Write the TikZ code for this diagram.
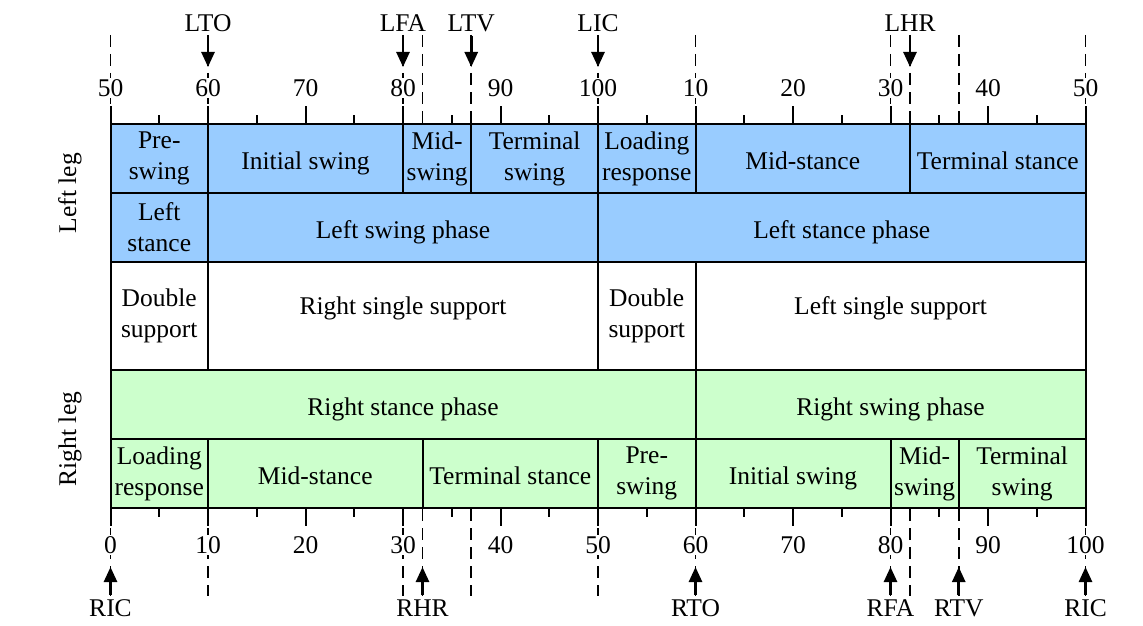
\documentclass[tikz,border=0pt]{standalone}
\usepackage{fontspec}
\setmainfont{Liberation Serif}
\usetikzlibrary{arrows.meta}
\definecolor{legblue}{RGB}{153,204,255}
\definecolor{leggreen}{RGB}{204,255,204}
\begin{document}
\begin{tikzpicture}[x=1pt,y=-1pt,
  box/.style={draw, line width=2pt, inner sep=0pt, outer sep=0pt, anchor=north west, align=center, font=\fontsize{25.5}{31}\selectfont},
  oneline/.style={text height=22pt, text depth=0pt},
  midline/.style={text height=6pt, text depth=10pt},
  twoline/.style={},
  num/.style={font=\fontsize{25.5}{31}\selectfont, fill=white, inner sep=1pt},
  evlabel/.style={font=\fontsize{25.5}{31}\selectfont, inner sep=1pt},
  legtext/.style={font=\fontsize{25.5}{31}\selectfont, rotate=90},
  evline/.style={line width=1.6pt, dash pattern=on 12pt off 7pt},
  evarrow/.style={line width=2.6pt, -{Triangle[width=13pt,length=15pt]}},
  tickline/.style={line width=2pt}]
\useasboundingbox (0,0) rectangle (1143,626);
\newcommand\gaitbox[8]{\node[box, #8, fill=#6, minimum width={(#3-#2)*9.75pt}, minimum height={(#5-#4)*1pt}] (#1) at ({110.5+9.75*#2},#4) {#7};}
% event dashed lines
\foreach \u in {0,10,30,32,37,50,60,80,82,87,100}{
  \draw[evline] ({110.5+9.75*\u},35) -- ({110.5+9.75*\u},123);
  \draw[evline] ({110.5+9.75*\u},509) -- ({110.5+9.75*\u},596);
}
% row 1
\gaitbox{a1}{0}{10}{124}{193}{legblue}{Pre-\\swing}{twoline}
\gaitbox{a2}{10}{30}{124}{193}{legblue}{Initial swing}{oneline}
\gaitbox{a3}{30}{37}{124}{193}{legblue}{Mid-\\swing}{twoline}
\gaitbox{a4}{37}{50}{124}{193}{legblue}{Terminal\\swing}{twoline}
\gaitbox{a5}{50}{60}{124}{193}{legblue}{Loading\\response}{twoline}
\gaitbox{a6}{60}{82}{124}{193}{legblue}{Mid-stance}{oneline}
\gaitbox{a7}{82}{100}{124}{193}{legblue}{Terminal stance}{oneline}
% row 2
\gaitbox{b1}{0}{10}{193}{262}{legblue}{Left\\stance}{twoline}
\gaitbox{b2}{10}{50}{193}{262}{legblue}{Left swing phase}{oneline}
\gaitbox{b3}{50}{100}{193}{262}{legblue}{Left stance phase}{oneline}
% row 3
\gaitbox{c1}{0}{10}{262}{370}{white}{Double\\support}{twoline}
\gaitbox{c2}{10}{50}{262}{370}{white}{Right single support}{midline}
\gaitbox{c3}{50}{60}{262}{370}{white}{Double\\support}{twoline}
\gaitbox{c4}{60}{100}{262}{370}{white}{Left single support}{midline}
% row 4
\gaitbox{d1}{0}{60}{370}{439}{leggreen}{Right stance phase}{oneline}
\gaitbox{d2}{60}{100}{370}{439}{leggreen}{Right swing phase}{oneline}
% row 5
\gaitbox{e1}{0}{10}{439}{508}{leggreen}{Loading\\response}{twoline}
\gaitbox{e2}{10}{32}{439}{508}{leggreen}{Mid-stance}{oneline}
\gaitbox{e3}{32}{50}{439}{508}{leggreen}{Terminal stance}{oneline}
\gaitbox{e4}{50}{60}{439}{508}{leggreen}{Pre-\\swing}{twoline}
\gaitbox{e5}{60}{80}{439}{508}{leggreen}{Initial swing}{oneline}
\gaitbox{e6}{80}{87}{439}{508}{leggreen}{Mid-\\swing}{twoline}
\gaitbox{e7}{87}{100}{439}{508}{leggreen}{Terminal\\swing}{twoline}
% ticks
\foreach \u in {0,10,...,100}{
  \draw[tickline] ({110.5+9.75*\u},124) -- ({110.5+9.75*\u},106);
  \draw[tickline] ({110.5+9.75*\u},508) -- ({110.5+9.75*\u},526);
}
\foreach \u in {5,15,...,95}{
  \draw[tickline] ({110.5+9.75*\u},124) -- ({110.5+9.75*\u},115);
  \draw[tickline] ({110.5+9.75*\u},508) -- ({110.5+9.75*\u},517);
}
% axis numbers
\foreach \u/\t in {0/50,10/60,20/70,30/80,40/90,50/100,60/10,70/20,80/30,90/40,100/50}{
  \node[num] (tn\u) at ({110.5+9.75*\u},88) {\t};
}
\foreach \u in {0,10,...,100}{
  \node[num] (bn\u) at ({110.5+9.75*\u},545) {\u};
}
% leg labels
\node[legtext] (leftleg) at (70,193) {Left leg};
\node[legtext] (rightleg) at (70,439) {Right leg};
% top events
\foreach \n/\u in {LTO/10,LFA/30,LTV/37,LIC/50,LHR/82}{
  \node[evlabel] (\n) at ({110.5+9.75*\u},23) {\n};
  \coordinate (tip\n) at ({110.5+9.75*\u},67);
  \draw[evarrow, shorten <=3pt] (\n.south) -- (tip\n);
}
% bottom events
\foreach \n/\u/\k in {RIC/0/a,RHR/32/b,RTO/60/c,RFA/80/d,RTV/87/e,RIC/100/f}{
  \node[evlabel] (ev\k) at ({110.5+9.75*\u},608) {\n};
  \coordinate (tip\k) at ({110.5+9.75*\u},567);
  \draw[evarrow, shorten <=3pt] (ev\k.north) -- (tip\k);
}
\end{tikzpicture}
\end{document}
